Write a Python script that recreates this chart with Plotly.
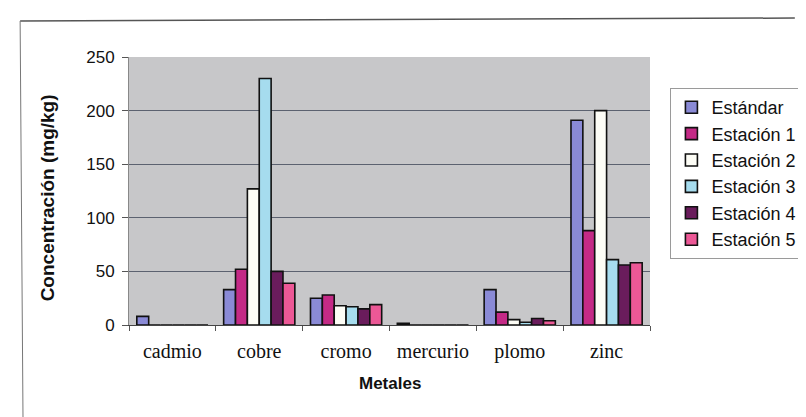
import plotly.graph_objects as go

categorias = ["cadmio", "cobre", "cromo", "mercurio", "plomo", "zinc"]
series = ["Estándar", "Estación 1", "Estación 2", "Estación 3", "Estación 4", "Estación 5"]
estandar = [8, 33, 25, 1.5, 33, 191]
estacion1 = [0, 52, 28, 0, 12, 88]
estacion2 = [0, 127, 18, 0, 5, 200]
estacion3 = [0, 230, 17, 0, 2.5, 61]
estacion4 = [0, 50, 15, 0, 6, 56]
estacion5 = [0, 39, 19, 0, 4, 58]
valores = [estandar, estacion1, estacion2, estacion3, estacion4, estacion5]
colores = ["#8a8ad6", "#c42a86", "#fdfdf6", "#a6dcee", "#6a1c5c", "#ec5896"]
y_ticks = [0, 50, 100, 150, 200, 250]

L, R, T, B = 121, 149, 49, 100
W, H = 806, 417
PW, PH = W - L - R, H - T - B


def px_x(x):
    return (x - L) / PW


def px_y(y):
    return (H - B - y) / PH


fig = go.Figure()
for nombre, vals, col in zip(series, valores, colores):
    fig.add_trace(go.Bar(
        x=categorias, y=vals, name=nombre, legendgroup=nombre,
        marker=dict(color=col, line=dict(color="#111111", width=1.6)),
    ))

fig.update_layout(
    width=W, height=H,
    margin=dict(l=L, r=R, t=T, b=B),
    paper_bgcolor="white",
    plot_bgcolor="#c7c7c9",
    barmode="group", bargap=0.18, bargroupgap=0,
    font=dict(family="Liberation Sans, Arial", color="#111111", size=16),
    legend=dict(
        x=px_x(678), y=px_y(80), xanchor="left", yanchor="top",
        font=dict(size=18, family="Liberation Sans, Arial", color="#111111"),
        bordercolor="#9a9a9a", borderwidth=1, bgcolor="white",
        tracegroupgap=0, itemwidth=30,
    ),
    showlegend=True,
)
fig.update_yaxes(
    range=[0, 250], tickvals=y_ticks,
    showgrid=True, gridcolor="#5c6270", gridwidth=1,
    ticks="outside", ticklen=6, tickcolor="#555555",
    showline=True, linecolor="#888888", linewidth=1,
    tickfont=dict(size=17, family="Liberation Sans, Arial"),
    ticklabelstandoff=4,
    zeroline=False,
)
fig.update_xaxes(
    showline=True, linecolor="#444444", linewidth=1.2,
    ticks="outside", tickson="boundaries", ticklen=5, tickcolor="#555555",
    tickfont=dict(size=20, family="Liberation Serif, Times New Roman"),
    ticklabelstandoff=8,
)
# axis titles
fig.add_annotation(
    text="<b>Concentración (mg/kg)</b>", textangle=-90,
    xref="paper", yref="paper", x=px_x(37), y=px_y(190),
    xanchor="center", yanchor="middle",
    showarrow=False, font=dict(size=19, family="Liberation Sans, Arial", color="#111111"),
)
fig.add_annotation(
    text="<b>Metales</b>",
    xref="paper", yref="paper", x=0.5, y=px_y(375),
    xanchor="center", yanchor="middle",
    showarrow=False, font=dict(size=17, family="Liberation Sans, Arial", color="#111111"),
)
# chart frame border (top and left)
fig.add_shape(type="line", xref="paper", yref="paper",
              x0=px_x(9), x1=px_x(806), y0=px_y(13), y1=px_y(10),
              line=dict(color="#555555", width=1.5))
fig.add_shape(type="line", xref="paper", yref="paper",
              x0=px_x(9), x1=px_x(12), y0=px_y(13), y1=px_y(417),
              line=dict(color="#777777", width=1))

fig.write_html("out.html")
